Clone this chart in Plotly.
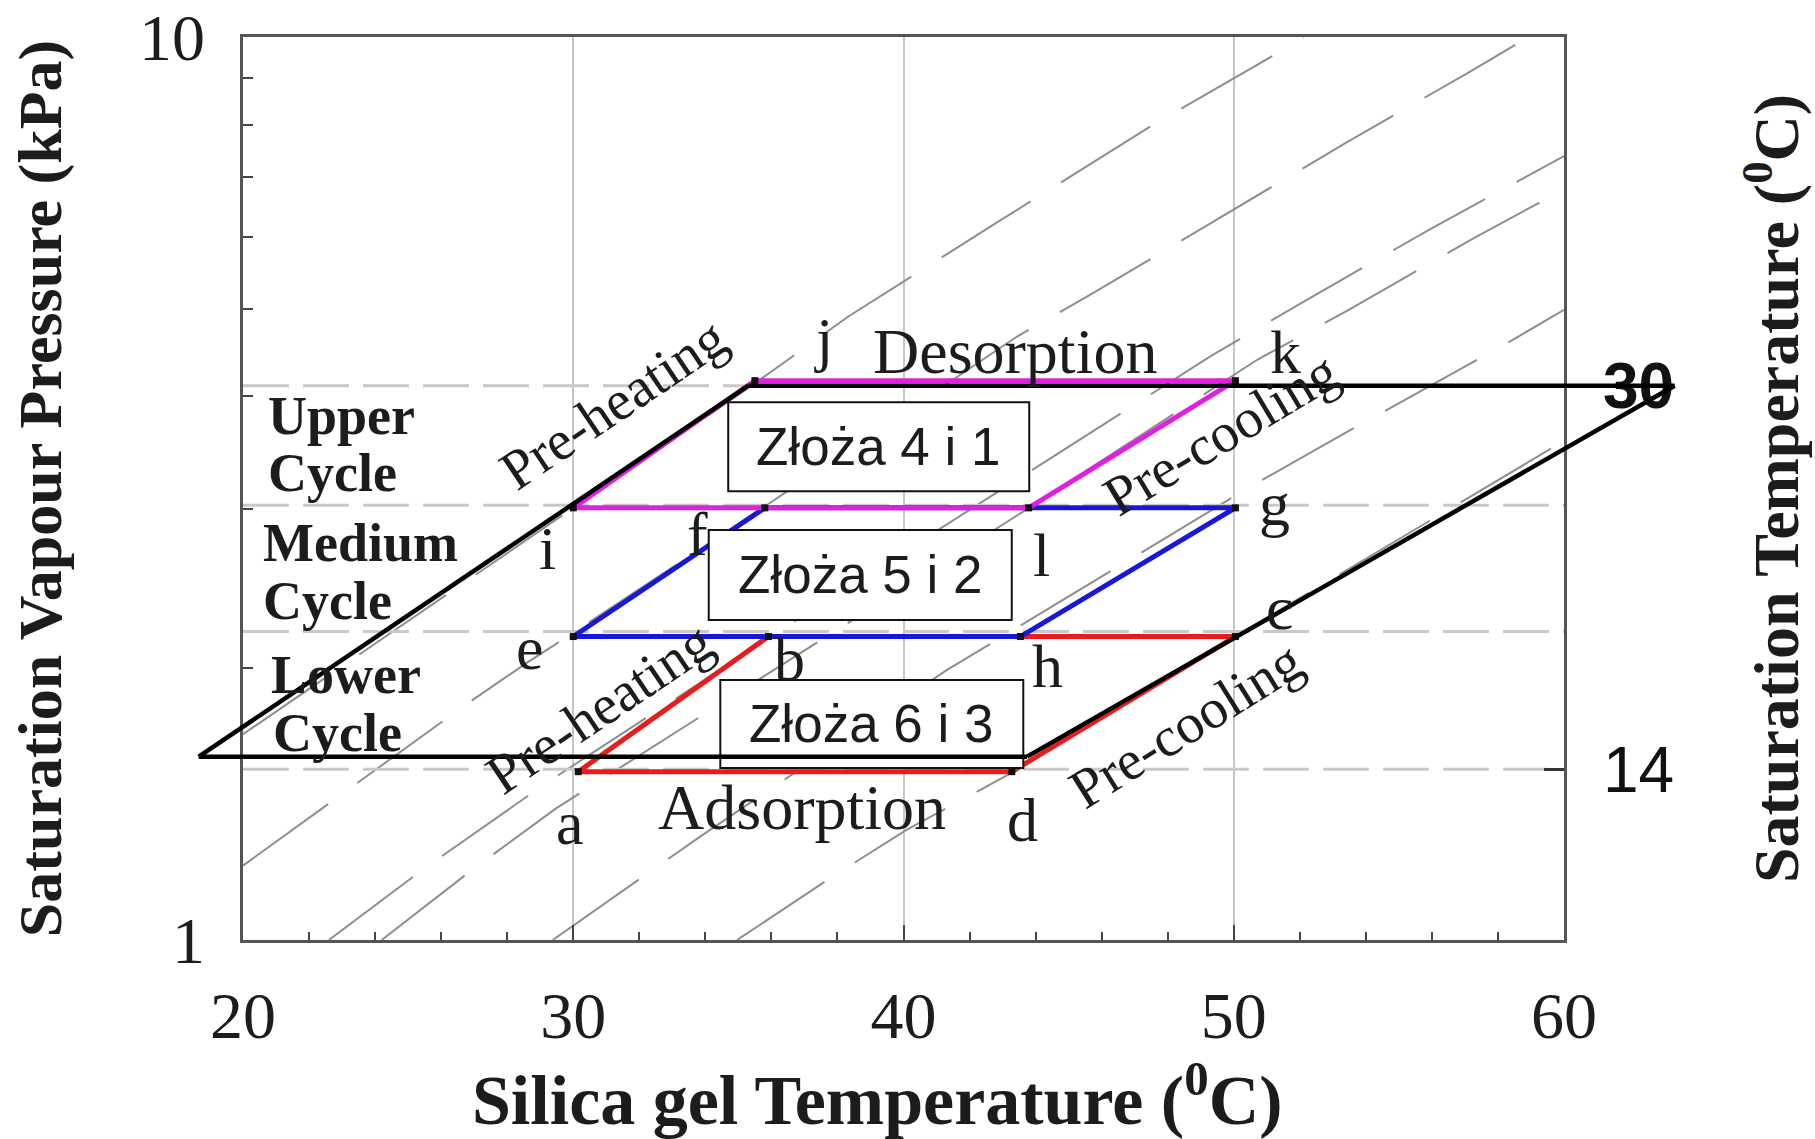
import math
import plotly.graph_objects as go

# ---------------- data ----------------
# Silica-gel temperature (deg C) / saturation vapour pressure (kPa) of cycle corners
lower_T = [30.15, 35.91, 50.05, 43.28, 30.15]      # a b c d a
lower_P = [1.536, 2.168, 2.168, 1.536, 1.536]
medium_T = [30.0, 35.8, 50.05, 43.54, 30.0]        # e f g h e
medium_P = [2.168, 3.01, 3.01, 2.168, 2.168]
upper_T = [30.0, 35.5, 50.05, 43.79, 30.0]         # i j k l i
upper_P = [3.01, 4.163, 4.163, 3.01, 3.01]

# outer (black) envelope
envelope_T = [18.66, 35.3, 63.35, 43.74]
envelope_P = [1.596, 4.11, 4.11, 1.596]

# saturation levels (horizontal dashed lines) and right-axis labels
level_P = [4.11, 3.03, 2.196, 1.546]
right_tick_P = [4.11, 1.546]
right_tick_text = ["<b>30</b>", "14"]

# isosteres (grey dashed)
iso_T = [
    [20.00, 30.00, 35.51, 38.33, 42.88, 47.48, 52.12],
    [20.00, 22.87, 26.66, 28.58, 29.95, 35.83, 43.44, 45.66, 49.55, 53.38, 57.17, 58.93],
    [22.60, 25.35, 29.18, 35.91, 49.29, 52.12, 55.91, 59.80, 60.00],
    [24.20, 26.86, 29.48, 43.79, 50.71, 53.48, 57.27, 60.00],
    [29.38, 33.83, 41.32, 50.51, 53.64, 58.28, 60.00],
    [34.96, 37.92, 40.09, 43.28, 50.05, 57.78, 60.00],
]
iso_P = [
    [1.69, 3.008, 4.137, 4.903, 6.248, 7.961, 9.975],
    [1.209, 1.441, 1.813, 2.026, 2.183, 3.026, 4.659, 5.183, 6.302, 7.630, 9.161, 10.0],
    [1.0, 1.190, 1.492, 2.159, 4.429, 5.094, 6.116, 7.312, 7.38],
    [1.0, 1.190, 1.399, 3.008, 4.391, 4.988, 5.988, 6.783],
    [1.0, 1.301, 1.991, 3.178, 3.689, 4.582, 4.988],
    [1.0, 1.180, 1.324, 1.532, 2.168, 3.200, 3.571],
]

box_text = ["Złoża 4 i 1", "Złoża 5 i 2", "Złoża 6 i 3"]
box_T = [39.25, 38.69, 39.04]
box_P = [3.518, 2.537, 1.735]

x_ticks = [20, 30, 40, 50, 60]
x_minor = [22, 24, 26, 28, 32, 34, 36, 38, 42, 44, 46, 48, 52, 54, 56, 58]
y_ticks = [1, 10]
y_minor = [2, 3, 4, 5, 6, 7, 8, 9]

X_RANGE = [20, 60]
Y_LOG_RANGE = [0, 1]

# ---------------- layout geometry ----------------
FIG_W, FIG_H = 1815, 1139
PAPER_L, PAPER_R = 170, 1700           # paper wide enough for the envelope
PLOT_L, PLOT_R, PLOT_T, PLOT_B = 243, 1564, 37, 940
W = PAPER_R - PAPER_L
x_dom = [(PLOT_L - PAPER_L) / W, (PLOT_R - PAPER_L) / W]
unit = (X_RANGE[1] - X_RANGE[0]) / (x_dom[1] - x_dom[0])
x2_range = [X_RANGE[0] - x_dom[0] * unit, X_RANGE[1] + (1 - x_dom[1]) * unit]
log_per_px = (Y_LOG_RANGE[1] - Y_LOG_RANGE[0]) / (PLOT_B - PLOT_T)
BOX_SIZES = [(301, 89), (303, 90), (303, 88)]

SERIF = "Liberation Serif"
SANS = "Liberation Sans"
TXT = "#1c1c1c"

fig = go.Figure()

# isosteres
for t, p in zip(iso_T, iso_P):
    fig.add_trace(go.Scatter(x=t, y=p, mode="lines",
                             line=dict(color="#8e8e8e", width=2, dash="105px,36px"),
                             hoverinfo="skip", showlegend=False))

# horizontal saturation levels
for p in level_P:
    fig.add_trace(go.Scatter(x=X_RANGE, y=[p, p], mode="lines",
                             line=dict(color="#c9c9c9", width=3, dash="46px,14px"),
                             hoverinfo="skip", showlegend=False))

# cycles
for t, p, col in [(lower_T, lower_P, "#e81c1c"),
                  (medium_T, medium_P, "#1818d8"),
                  (upper_T, upper_P, "#e020e0")]:
    fig.add_trace(go.Scatter(x=t, y=p, mode="lines",
                             line=dict(color=col, width=5),
                             hoverinfo="skip", showlegend=False))

# corner points
corner_T = lower_T[:4] + medium_T[:4] + upper_T[:4]
corner_P = lower_P[:4] + medium_P[:4] + upper_P[:4]
fig.add_trace(go.Scatter(x=corner_T, y=corner_P, mode="markers",
                         marker=dict(symbol="square", size=7, color="#111111"),
                         hoverinfo="skip", showlegend=False))

# invisible traces activating the right axis and the wide envelope subplot
fig.add_trace(go.Scatter(x=[X_RANGE[1]] * len(right_tick_P), y=right_tick_P, yaxis="y2",
                         mode="markers", marker=dict(opacity=0),
                         hoverinfo="skip", showlegend=False))
fig.add_trace(go.Scatter(x=envelope_T, y=envelope_P, xaxis="x2", yaxis="y",
                         mode="markers", marker=dict(opacity=0),
                         hoverinfo="skip", showlegend=False))

# ---------------- shapes: boxes, then the black envelope on top ----------------
shapes = []
for t, p, (w, h) in zip(box_T, box_P, BOX_SIZES):
    lp = math.log10(p)
    half = (h / 2) * log_per_px
    shapes.append(dict(type="rect", xref="x", yref="y", layer="above",
                       xsizemode="pixel", xanchor=t, x0=-w / 2, x1=w / 2,
                       y0=10 ** (lp - half), y1=10 ** (lp + half),
                       fillcolor="white", line=dict(color="#111111", width=2)))
n = len(envelope_T)
for k in range(n):
    shapes.append(dict(type="line", xref="x2", yref="y", layer="above",
                       x0=envelope_T[k], y0=envelope_P[k],
                       x1=envelope_T[(k + 1) % n], y1=envelope_P[(k + 1) % n],
                       line=dict(color="black", width=4.5)))

# ---------------- annotations ----------------
ann = []
for txt, x, y in [("Upper", 20.69, 0.5798), ("Cycle", 20.71, 0.5167),
                  ("Medium", 20.56, 0.4395), ("Cycle", 20.56, 0.3749),
                  ("Lower", 20.80, 0.2940), ("Cycle", 20.84, 0.2290)]:
    ann.append(dict(text=txt, x=x, y=y, xref="x", yref="y", showarrow=False,
                    xanchor="left", yanchor="middle",
                    font=dict(family=SERIF, size=54, color=TXT, weight="bold")))

for txt, x, y in [("a", 29.89, 0.1297), ("b", 36.56, 0.3117), ("c", 51.41, 0.3682),
                  ("d", 43.61, 0.1334), ("e", 28.70, 0.3236), ("f", 33.75, 0.4491),
                  ("g", 51.23, 0.4823), ("h", 44.37, 0.3032), ("i", 29.22, 0.4343),
                  ("j", 37.59, 0.6651), ("k", 51.57, 0.6507), ("l", 44.19, 0.4269)]:
    ann.append(dict(text=txt, x=x, y=y, xref="x", yref="y", showarrow=False,
                    xanchor="center", yanchor="middle",
                    font=dict(family=SERIF, size=62, color=TXT)))

for txt, x, y in [("Desorption", 43.38, 0.6521), ("Adsorption", 36.92, 0.1463)]:
    ann.append(dict(text=txt, x=x, y=y, xref="x", yref="y", showarrow=False,
                    xanchor="center", yanchor="middle",
                    font=dict(family=SERIF, size=64, color=TXT)))

for txt, x, y, ang in [("Pre-heating", 31.20, 0.5938, -34), ("Pre-heating", 30.79, 0.2573, -34),
                       ("Pre-cooling", 49.60, 0.5605, -31), ("Pre-cooling", 48.54, 0.2385, -32)]:
    ann.append(dict(text=txt, x=x, y=y, xref="x", yref="y", showarrow=False,
                    xanchor="center", yanchor="middle", textangle=ang,
                    font=dict(family=SERIF, size=56, color=TXT)))

for txt, t, p in zip(box_text, box_T, box_P):
    ann.append(dict(text=txt, x=t, y=math.log10(p), xref="x", yref="y", showarrow=False,
                    xanchor="center", yanchor="middle",
                    font=dict(family=SANS, size=53, color=TXT)))

fig.update_layout(
    width=FIG_W, height=FIG_H, autosize=False,
    margin=dict(l=PAPER_L, r=FIG_W - PAPER_R, t=PLOT_T, b=FIG_H - PLOT_B, pad=0),
    paper_bgcolor="white", plot_bgcolor="rgba(0,0,0,0)",
    showlegend=False,
    shapes=shapes,
    annotations=ann,
    xaxis=dict(domain=x_dom, range=X_RANGE, tickmode="array", tickvals=x_ticks,
               ticks="inside", ticklen=15, tickwidth=2, tickcolor="#444",
               showline=True, mirror=True, linecolor="#555", linewidth=2.5,
               showgrid=True, gridcolor="#c6c6c6", gridwidth=1.5, zeroline=False,
               tickfont=dict(family=SERIF, size=66, color=TXT), ticklabelstandoff=16,
               minor=dict(tickmode="array", tickvals=x_minor, ticks="inside",
                          ticklen=8, tickwidth=2, tickcolor="#444", showgrid=False),
               title=dict(text="Silica gel Temperature (<sup>0</sup>C)&nbsp;&nbsp;&nbsp;",
                          standoff=34,
                          font=dict(family=SERIF, size=70, color=TXT, weight="bold")),
               automargin=False),
    xaxis2=dict(domain=[0, 1], range=x2_range, anchor="y", visible=False),
    yaxis=dict(type="log", range=Y_LOG_RANGE, tickmode="array", tickvals=y_ticks,
               ticktext=[str(v) for v in y_ticks],
               ticks="inside", ticklen=10, tickwidth=2, tickcolor="#444",
               showline=True, mirror=True, linecolor="#555", linewidth=2.5,
               showgrid=False, zeroline=False,
               tickfont=dict(family=SERIF, size=66, color=TXT), ticklabelstandoff=22,
               minor=dict(tickmode="array", tickvals=y_minor, ticks="inside",
                          ticklen=10, tickwidth=2, tickcolor="#444", showgrid=False),
               title=dict(text="Saturation Vapour Pressure (kPa)", standoff=58,
                          font=dict(family=SERIF, size=62, color=TXT, weight="bold")),
               automargin=False),
    yaxis2=dict(type="log", range=Y_LOG_RANGE, overlaying="y", side="right", anchor="x",
                tickmode="array", tickvals=right_tick_P, ticktext=right_tick_text,
                ticks="inside", ticklen=20, tickwidth=2.5, tickcolor="#333",
                showline=False, showgrid=False, zeroline=False,
                tickfont=dict(family=SANS, size=64, color="#111"), ticklabelstandoff=38,
                title=dict(text="Saturation Temperature (<sup>0</sup>C)", standoff=80,
                           font=dict(family=SERIF, size=64, color=TXT, weight="bold")),
                automargin=False),
)

fig.write_html("out.html")
